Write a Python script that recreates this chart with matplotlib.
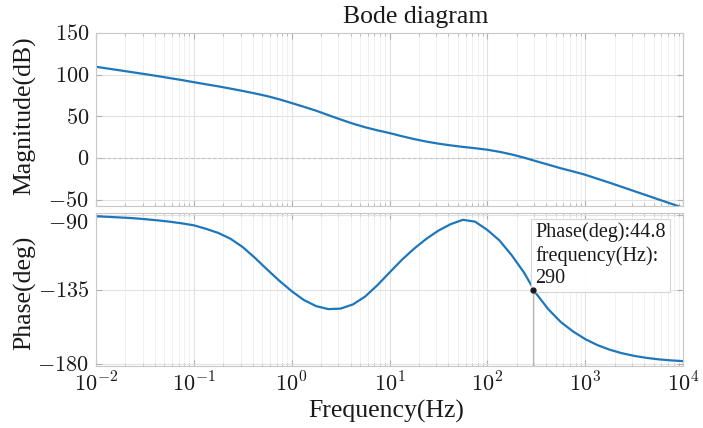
import matplotlib
matplotlib.use('Agg')
import matplotlib.pyplot as plt
import matplotlib.transforms as mtransforms
from matplotlib.ticker import LogLocator, FixedLocator, FuncFormatter
import numpy as np

# 字体设置
plt.rcParams['font.family'] = ['Liberation Serif', 'DejaVu Serif']
plt.rcParams['mathtext.fontset'] = 'cm'

# 频率点 (Hz), 每 1/8 十倍频程
freq_hz = [0.01, 0.0133, 0.0178, 0.0237, 0.0316, 0.0422, 0.0562, 0.075,
           0.1, 0.133, 0.178, 0.237, 0.316, 0.422, 0.562, 0.75,
           1.0, 1.33, 1.78, 2.37, 3.16, 4.22, 5.62, 7.5,
           10.0, 13.3, 17.8, 23.7, 31.6, 42.2, 56.2, 75.0,
           100, 133, 178, 237, 316, 422, 562, 750,
           1000, 1330, 1780, 2370, 3160, 4220, 5620, 7500,
           10000]

# 幅值 (dB)
mag_db = [109.5, 107.3, 105.1, 102.9, 100.7, 98.4, 96.0, 93.6,
          91.0, 88.5, 86.0, 83.3, 80.5, 77.5, 74.3, 70.4,
          66.0, 61.5, 56.8, 51.5, 46.3, 41.3, 37.0, 33.3,
          30.0, 26.3, 22.8, 19.8, 17.3, 15.2, 13.4, 11.8,
          10.0, 7.5, 4.3, 0.5, -3.8, -8.0, -12.2, -16.0,
          -20.0, -24.8, -29.6, -34.6, -39.6, -44.6, -49.6, -54.6,
          -59.6]

# 相位 (deg)
phase_deg = [-91.0, -91.3, -91.7, -92.1, -92.7, -93.4, -94.2, -95.2,
             -96.4, -98.5, -101.0, -104.5, -109.5, -116.0, -123.0, -129.8,
             -136.0, -141.3, -145.0, -146.8, -146.5, -144.0, -139.3, -132.5,
             -124.8, -117.3, -110.5, -104.6, -99.6, -95.7, -93.1, -94.2,
             -99.2, -105.5, -114.5, -124.8, -137.5, -147.0, -154.5, -160.2,
             -164.8, -168.4, -171.2, -173.3, -174.9, -176.1, -177.0, -177.6,
             -178.1]

# 数据提示点
tip_freq = 290
tip_phase = -135.2

freq_ticks = [1e-2, 1e-1, 1e0, 1e1, 1e2, 1e3, 1e4]
mag_ticks = [-50, 0, 50, 100, 150]
phase_ticks = [-180, -135, -90]

W, H = 703, 428
fig = plt.figure(figsize=(W / 100, H / 100), dpi=100)
ax1 = fig.add_axes([96 / W, 1 - 206 / H, 587 / W, 173 / H])
ax2 = fig.add_axes([96 / W, 1 - 366 / H, 587 / W, 153 / H])

line_c = '#1f77bb'
frame_c = '#c8c8c8'
text_c = '#1a1a1a'

for ax in (ax1, ax2):
    ax.set_xscale('log')
    ax.set_xlim(1e-2, 1e4)
    ax.xaxis.set_major_locator(FixedLocator(freq_ticks))
    ax.xaxis.set_minor_locator(LogLocator(base=10, subs=np.arange(2, 10), numticks=100))
    ax.xaxis.set_major_formatter(FuncFormatter(lambda v, p: r'$10^{%d}$' % round(np.log10(v))))
    ax.yaxis.set_major_formatter(FuncFormatter(lambda v, p: r'$%g$' % v))
    ax.grid(True, which='major', color='#e2e2e2', lw=0.8)
    ax.grid(True, which='minor', axis='x', color='#f0f0f0', lw=0.7)
    ax.tick_params(which='both', direction='in', top=True, right=True,
                   color='#b0b0b0', labelsize=16, labelcolor=text_c, pad=5)
    ax.tick_params(which='major', length=4)
    ax.tick_params(which='minor', length=2.5)
    for s in ax.spines.values():
        s.set_color(frame_c)
    ax.set_axisbelow(True)

# 1. 幅频
ax1.axhline(0, color='#c4c4c4', lw=0.8, ls=(0, (3, 2)), zorder=1)
ax1.plot(freq_hz, mag_db, color=line_c, lw=1.6)
ax1.set_ylim(-57.5, 150)
ax1.yaxis.set_major_locator(FixedLocator(mag_ticks))
ax1.tick_params(labelbottom=False)

# 2. 相频
ax2.plot(freq_hz, phase_deg, color=line_c, lw=1.6)
ax2.set_ylim(-181, -89)
ax2.yaxis.set_major_locator(FixedLocator(phase_ticks))
ax2.vlines(tip_freq, -181, tip_phase, color='#b5b5b5', lw=0.9, zorder=2)
ax2.plot(tip_freq, tip_phase, 'o', ms=3.5, color=text_c, zorder=6)
ax2.annotate(f'Phase(deg):{180 + tip_phase:.1f}\nfrequency(Hz):\n{tip_freq}',
             xy=(tip_freq, tip_phase), xytext=(2, 1), textcoords='offset points',
             ha='left', va='bottom', fontsize=14.5, linespacing=1.25, color=text_c,
             bbox=dict(boxstyle='square,pad=0.2', fc='white', ec='#d4d4d4', lw=0.8, alpha=0.95),
             zorder=5, annotation_clip=False)

# -90 标签略微下移, 避免与 -50 重叠
off = mtransforms.ScaledTranslation(0, -5 / 72, fig.dpi_scale_trans)
top_tick = ax2.yaxis.get_major_ticks()[-1]
top_tick.label1.set_transform(top_tick.label1.get_transform() + off)

# 标签
fig.text(416 / W, 1 - 17 / H, 'Bode diagram', fontsize=18.5, ha='center', va='center', color=text_c)
fig.text(25 / W, 1 - 116 / H, 'Magnitude(dB)', fontsize=18.5, rotation=90, ha='center', va='center', color=text_c)
fig.text(25 / W, 1 - 293 / H, 'Phase(deg)', fontsize=18.5, rotation=90, ha='center', va='center', color=text_c)
fig.text(386 / W, 1 - 411 / H, 'Frequency(Hz)', fontsize=18.5, ha='center', va='center', color=text_c)

plt.savefig('out.png', dpi=100)
plt.close()
